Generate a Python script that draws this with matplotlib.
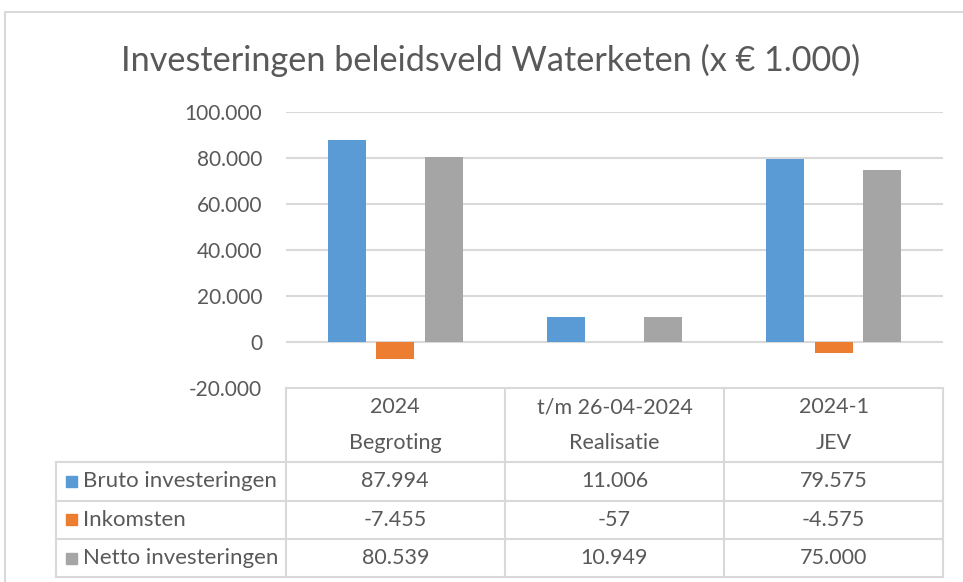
import matplotlib
matplotlib.use("Agg")
import matplotlib.pyplot as plt
from matplotlib.patches import Rectangle

plt.rcParams['font.family'] = ['Lato', 'DejaVu Sans']

# data (x EUR 1.000)
kolommen = ["2024\nBegroting", "t/m 26-04-2024\nRealisatie", "2024-1\nJEV"]
reeksen = ["Bruto investeringen", "Inkomsten", "Netto investeringen"]
bruto = [87994, 11006, 79575]
inkomsten = [-7455, -57, -4575]
netto = [80539, 10949, 75000]
kleuren = ["#5B9BD5", "#ED7D31", "#A5A5A5"]
yticks = [-20000, 0, 20000, 40000, 60000, 80000, 100000]

TXT = "#595959"
LIJN = "#D9D9D9"
W, H = 963, 582


def fx(px):
    return px / W


def fy(py):
    return 1 - py / H


def fmt(v):
    s = f"{abs(v):,}".replace(",", ".")
    return ("-" if v < 0 else "") + s


fig = plt.figure(figsize=(W / 100, H / 100), dpi=100)

# chart border
fig.patches.append(Rectangle((fx(5), fy(1000)), 2, fy(12) - fy(1000),
                             transform=fig.transFigure, fill=False,
                             edgecolor=LIJN, linewidth=1.5))

x0, x1 = 285.7, 943.3
ax = fig.add_axes([fx(x0), fy(388), fx(x1) - fx(x0), fy(112) - fy(388)])
ax.set_xlim(-0.5, 2.5)
ax.set_ylim(-20000, 100000)

cat_px = (x1 - x0) / 3
bw = 38 / cat_px
step = 48.5 / cat_px
for i, (vals, kl) in enumerate(zip([bruto, inkomsten, netto], kleuren)):
    xs = [c + (i - 1) * step for c in range(3)]
    ax.bar(xs, vals, width=bw, color=kl, zorder=3)

ax.set_yticks(yticks)
ax.set_yticklabels([fmt(v) for v in yticks])
ax.tick_params(axis='y', length=0, pad=17, labelsize=15, labelcolor=TXT)
ax.set_xticks([])
for v in yticks[1:]:
    ax.axhline(v, color=LIJN, linewidth=1.5, zorder=1)
for s in ax.spines.values():
    s.set_visible(False)

fig.text(fx(491), fy(60), "Investeringen beleidsveld Waterketen (x € 1.000)",
         ha='center', va='center', fontsize=24.7, color=TXT)

# data table below the plot
rows_px = [388, 462, 500.5, 539, 577.3]
tab = fig.add_axes([fx(x0), fy(rows_px[-1]), fx(x1) - fx(x0),
                    fy(rows_px[0]) - fy(rows_px[-1])])
tab.set_xlim(-0.5, 2.5)
tab.set_ylim(rows_px[-1], rows_px[0])
tab.axis('off')


def dx(px):
    return -0.5 + (px - x0) / cat_px


links = dx(55.7)
kw = dict(color=LIJN, linewidth=1.5, clip_on=False)
tab.plot([-0.5, 2.5], [rows_px[0]] * 2, **kw)
for r in rows_px[1:]:
    tab.plot([links, 2.5], [r, r], **kw)
for c in [-0.5, 0.5, 1.5, 2.5]:
    tab.plot([c, c], [rows_px[0], rows_px[-1]], **kw)
tab.plot([links, links], [rows_px[1], rows_px[-1]], **kw)

fs = 15.5
for c, lab in enumerate(kolommen):
    boven, onder = lab.split("\n")
    tab.text(c, 407, boven, ha='center', va='center', fontsize=fs, color=TXT)
    tab.text(c, 443, onder, ha='center', va='center', fontsize=fs, color=TXT)

for r, (naam, vals, kl) in enumerate(zip(reeksen, [bruto, inkomsten, netto], kleuren)):
    ymid = (rows_px[r + 1] + rows_px[r + 2]) / 2
    tab.add_patch(Rectangle((dx(65.7), ymid - 5.5), 11 / cat_px, 11,
                            color=kl, clip_on=False))
    tab.text(dx(83), ymid, naam, ha='left', va='center', fontsize=16,
             color=TXT, clip_on=False)
    for c, v in enumerate(vals):
        tab.text(c, ymid, fmt(v), ha='center', va='center', fontsize=fs,
                 color=TXT)

fig.savefig("out.png", dpi=100, facecolor='white')
